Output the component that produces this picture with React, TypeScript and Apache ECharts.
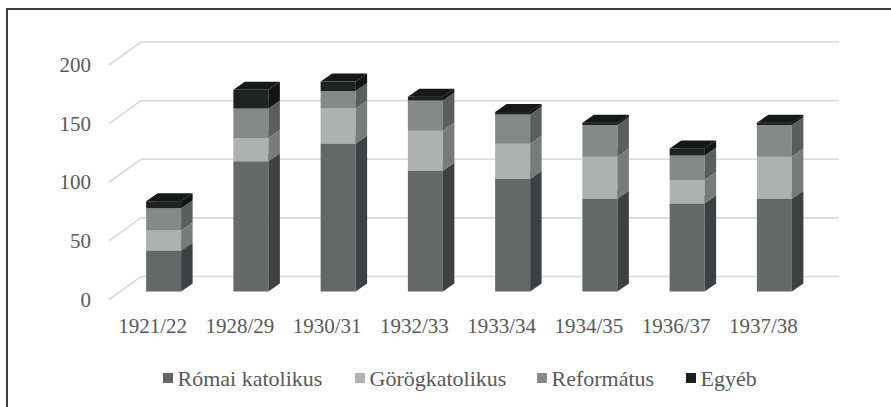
import React, { useEffect, useRef } from "react";
import * as echarts from "echarts";

const categories = ["1921/22", "1928/29", "1930/31", "1932/33", "1933/34", "1934/35", "1936/37", "1937/38"];
const romai = [35, 111, 126, 103, 96, 79, 75, 79];
const gorog = [17, 20, 30, 34, 30, 36, 20, 36];
const reform = [19, 25, 15, 26, 25, 27, 21, 27];
const egyeb = [6, 16, 8, 3, 2, 2, 6, 2];
const seriesNames = ["Római katolikus", "Görögkatolikus", "Református", "Egyéb"];
const yTicks = [0, 50, 100, 150, 200];

const FACE = [
  { front: "#646968", side: "#3d4143", top: "#7a7f7f", legend: "#606464" },
  { front: "#aeb1b1", side: "#777b7b", top: "#c2c4c4", legend: "#b2b4b4" },
  { front: "#86898a", side: "#5a5e5f", top: "#9a9d9e", legend: "#888b8c" },
  { front: "#1f2223", side: "#121516", top: "#16191a", legend: "#1c1f20" },
];
const LEGEND_X = [163, 355, 537, 686];

const BAR_DX = 11;
const BAR_DY = -8;
const DEPTH_DX = 11.5;
const DEPTH_DY = -8;
const WALL_DX = 32;
const WALL_DY = -23;
const BAR_W = 35;
const FONT = "Liberation Serif";
const TEXT = "#595959";

export default function App() {
  const ref = useRef<HTMLDivElement>(null);
  useEffect(() => {
    if (!ref.current) return;
    const chart = echarts.init(ref.current, undefined, { renderer: "svg" });
    const lists = [romai, gorog, reform, egyeb];
    const bases = lists.map((_, s) =>
      categories.map((_, i) => {
        let b = 0;
        for (let k = 0; k < s; k++) b += lists[k][i];
        return b;
      })
    );

    const barSeries = lists.map((vals, s) => ({
      type: "custom",
      name: seriesNames[s],
      clip: false,
      z: 5 + s,
      itemStyle: { color: FACE[s].legend },
      encode: { x: 0, y: 1 },
      data: categories.map((_, i) => [i, bases[s][i], vals[i]]),
      renderItem: (params: any, api: any) => {
        const cat = api.value(0);
        const base = api.value(1);
        const val = api.value(2);
        const p0 = api.coord([cat, base]);
        const p1 = api.coord([cat, base + val]);
        const xc = p0[0] + BAR_DX;
        const yb = p0[1] + BAR_DY;
        const yt = p1[1] + BAR_DY;
        const xl = xc - BAR_W / 2;
        const xr = xc + BAR_W / 2;
        const f = FACE[s];
        return {
          type: "group",
          children: [
            {
              type: "rect",
              shape: { x: xl, y: yt, width: BAR_W, height: yb - yt },
              style: { fill: f.front },
            },
            {
              type: "polygon",
              shape: {
                points: [
                  [xr, yb],
                  [xr + DEPTH_DX, yb + DEPTH_DY],
                  [xr + DEPTH_DX, yt + DEPTH_DY],
                  [xr, yt],
                ],
              },
              style: { fill: f.side },
            },
            {
              type: "polygon",
              shape: {
                points: [
                  [xl, yt],
                  [xl + DEPTH_DX, yt + DEPTH_DY],
                  [xr + DEPTH_DX, yt + DEPTH_DY],
                  [xr, yt],
                ],
              },
              style: { fill: f.top },
            },
          ],
        };
      },
    }));

    const gridSeries = {
      type: "custom",
      name: "grid",
      clip: false,
      silent: true,
      z: 1,
      encode: { x: 0, y: 1 },
      data: yTicks.map((v) => [0, v]),
      renderItem: (params: any, api: any) => {
        const cs = params.coordSys;
        const p = api.coord([0, api.value(1)]);
        const y = p[1];
        const x0 = cs.x;
        const x1 = cs.x + cs.width;
        return {
          type: "polyline",
          shape: {
            points: [
              [x0, y],
              [x0 + WALL_DX, y + WALL_DY],
              [x1 + WALL_DX, y + WALL_DY],
            ],
          },
          style: { stroke: "#d9d9d9", lineWidth: 1.6, fill: null },
        };
      },
    };

    const legendGraphics: any[] = [];
    seriesNames.forEach((name, s) => {
      legendGraphics.push({
        type: "rect",
        shape: { x: LEGEND_X[s], y: 373, width: 10, height: 10 },
        style: { fill: FACE[s].legend },
      });
      legendGraphics.push({
        type: "text",
        x: LEGEND_X[s] + 14.5,
        y: 378.5,
        style: {
          text: name,
          font: "22px 'Liberation Serif'",
          fill: TEXT,
          verticalAlign: "middle",
          align: "left",
        },
      });
    });

    chart.setOption({
      animation: false,
      backgroundColor: "#ffffff",
      textStyle: { fontFamily: FONT },
      grid: { left: 109, right: 84, top: 65, bottom: 107.5, containLabel: false },
      xAxis: {
        type: "category",
        data: categories,
        axisLine: { show: false },
        axisTick: { show: false },
        splitLine: { show: false },
        axisLabel: { color: TEXT, fontFamily: FONT, fontSize: 21, margin: 16, interval: 0 },
      },
      yAxis: {
        type: "value",
        min: 0,
        max: 200,
        interval: 50,
        axisLine: { show: false },
        axisTick: { show: false },
        splitLine: { show: false },
        axisLabel: { color: TEXT, fontFamily: FONT, fontSize: 21, margin: 18 },
      },
      graphic: [
        ...legendGraphics,
        {
          type: "polyline",
          shape: { points: [[7, 407], [7, 9], [891, 9]] },
          style: { stroke: "#3f3f3f", lineWidth: 2, fill: null },
          z: 100,
        },
      ],
      series: [gridSeries, ...barSeries],
    });
    return () => chart.dispose();
  }, []);
  return (
    <div
      ref={ref}
      style={{ position: "fixed", left: 0, top: 0, width: 891, height: 407 }}
    />
  );
}
